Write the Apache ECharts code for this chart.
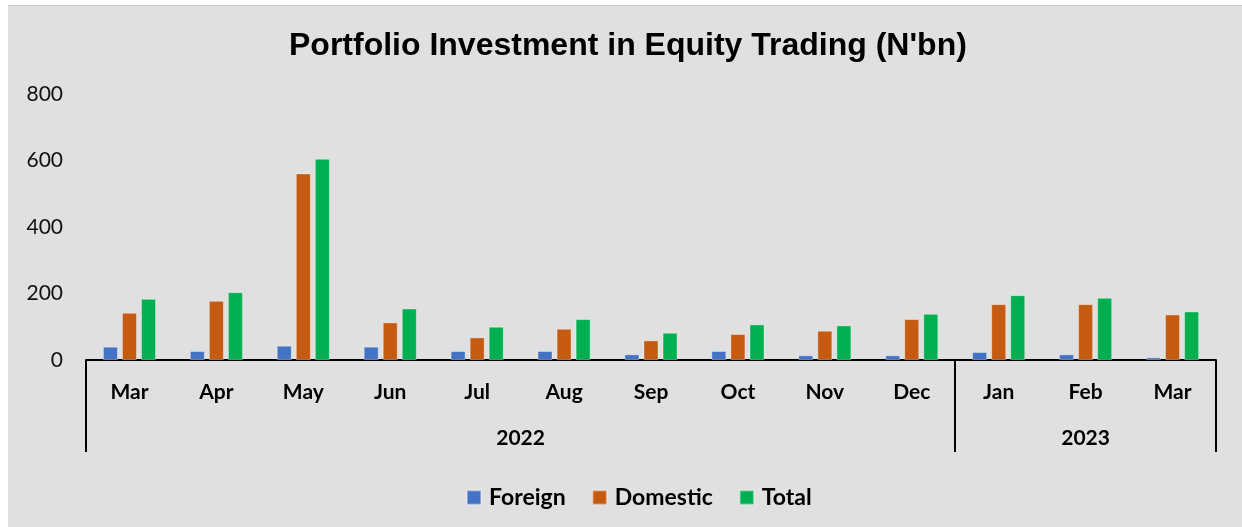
<!DOCTYPE html>
<html>
<head>
<meta charset="utf-8">
<script src="https://cdn.jsdelivr.net/npm/echarts@6/dist/echarts.min.js"></script>
<style>html,body{margin:0;padding:0;background:#fff;}#c{width:1242px;height:527px;}</style>
</head>
<body>
<div id="c"></div>
<script>
const titleText = "Portfolio Investment in Equity Trading (N'bn)";
const months = ['Mar','Apr','May','Jun','Jul','Aug','Sep','Oct','Nov','Dec','Jan','Feb','Mar'];
const years = ['2022','2023'];
const yearMonthCounts = [10, 3];
const seriesNames = ['Foreign','Domestic','Total'];
const foreign  = [40, 27, 43, 40, 27, 27, 17, 27, 14, 14, 24, 17, 8];
const domestic = [142, 178, 561, 113, 68, 94, 59, 78, 88, 123, 168, 168, 137];
const total    = [184, 204, 605, 155, 100, 123, 82, 107, 104, 139, 195, 187, 146];
const yTicks = [0, 200, 400, 600, 800];

const colors = ['#4472C4', '#C55A11', '#00B050'];

// group boundaries and centres for the year level
const bounds = [0];
yearMonthCounts.forEach(c => bounds.push(bounds[bounds.length - 1] + c));
const mids = years.map((y, i) => (bounds[i] + bounds[i + 1]) / 2);

const chart = echarts.init(document.getElementById('c'), null, {renderer: 'canvas'});
const labelFont = 'Lato, "Open Sans", sans-serif';

function bar(name, data, color) {
  return {
    name, type: 'bar', data, barWidth: 15, barGap: '27%',
    itemStyle: {color, borderColor: 'rgba(255,255,255,0.35)', borderWidth: 1},
    xAxisIndex: 0, yAxisIndex: 0
  };
}

chart.setOption({
  animation: false,
  backgroundColor: '#ffffff',
  graphic: [
    {type: 'rect', z: -10, silent: true, shape: {x: 8, y: 5, width: 1234, height: 522}, style: {fill: '#E0E0E0'}},
    {type: 'line', z: -9, silent: true, shape: {x1: 8, y1: 5.5, x2: 1242, y2: 5.5}, style: {stroke: '#C8C8C8', lineWidth: 1}}
  ],
  title: {
    text: titleText, left: 289, top: 30, padding: 0,
    textStyle: {fontFamily: '"Liberation Sans", Arial, sans-serif', fontWeight: 'bold', fontSize: 32, color: '#000'}
  },
  legend: {
    data: seriesNames, left: 461, top: 481, icon: 'rect', itemWidth: 14, itemHeight: 14, itemGap: 26,
    textStyle: {fontFamily: labelFont, fontWeight: 'bold', fontSize: 23, color: '#000', padding: [0, 0, 0, 3]}
  },
  grid: {left: 86, right: 26, top: 94, bottom: 167, containLabel: false},
  xAxis: [
    {
      type: 'category', data: months, position: 'bottom',
      axisLine: {show: true, lineStyle: {color: '#000', width: 2}},
      axisTick: {show: false},
      axisLabel: {fontFamily: labelFont, fontWeight: 'bold', fontSize: 21, color: '#000', margin: 22, interval: 0},
      splitLine: {show: false}
    },
    {
      type: 'value', position: 'bottom', min: 0, max: months.length,
      axisLine: {show: false},
      axisTick: {show: true, customValues: bounds, length: 92, lineStyle: {color: '#000', width: 2}},
      axisLabel: {
        show: true, customValues: mids, margin: 68,
        fontFamily: labelFont, fontWeight: 'bold', fontSize: 21, color: '#000',
        formatter: v => { const i = mids.indexOf(v); return i >= 0 ? years[i] : ''; }
      },
      splitLine: {show: false}
    }
  ],
  yAxis: {
    type: 'value', min: 0, max: yTicks[yTicks.length - 1], interval: yTicks[1] - yTicks[0],
    axisLine: {show: false}, axisTick: {show: false}, splitLine: {show: false},
    axisLabel: {fontFamily: labelFont, fontSize: 21, color: '#111', margin: 23}
  },
  series: [
    bar(seriesNames[0], foreign, colors[0]),
    bar(seriesNames[1], domestic, colors[1]),
    bar(seriesNames[2], total, colors[2])
  ]
});
</script>
</body>
</html>
